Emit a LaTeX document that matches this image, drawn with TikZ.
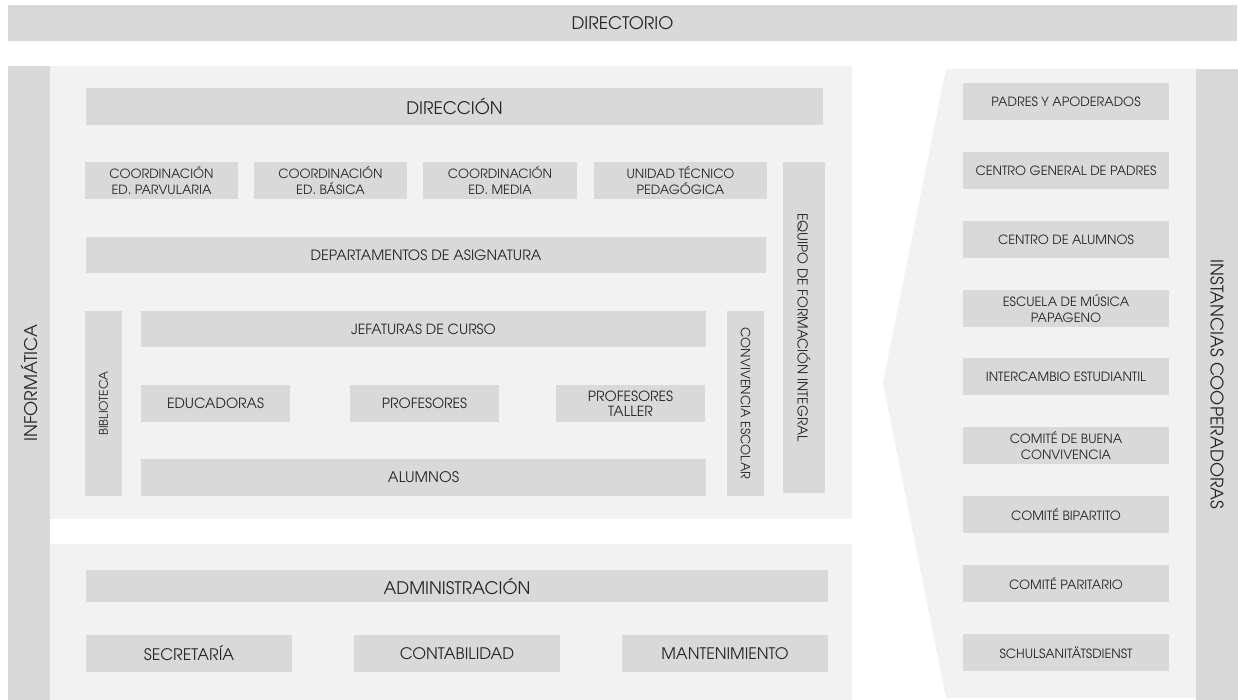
\documentclass[tikz,border=0pt]{standalone}
\usepackage{fontspec}
\setmainfont{texgyreadventor-regular.otf}
\definecolor{boxc}{HTML}{D9D9D9}
\definecolor{panelc}{HTML}{F2F2F2}
\definecolor{txt}{HTML}{262626}
\tikzset{
  bx/.style={fill=boxc, inner sep=0pt, text=txt, align=center, anchor=center},
  big/.style={font=\fontsize{17.3}{19}\selectfont},
  side/.style={font=\fontsize{17.4}{19}\selectfont},
  low/.style={font=\fontsize{15.9}{18}\selectfont},
  mid/.style={font=\fontsize{14}{15.5}\selectfont},
  sml/.style={font=\fontsize{12.7}{15.3}\selectfont},
}
\begin{document}
\begin{tikzpicture}[x=1pt,y=-1pt]
\useasboundingbox (0,0) rectangle (1238,700);
\fill[white] (0,0) rectangle (1238,700);
% panels
\fill[panelc] (50,66) rectangle (852,519);
\fill[panelc] (50,544) rectangle (852,700);
\fill[panelc] (946,69) -- (1196,69) -- (1196,698) -- (946,698) -- (883,383) -- cycle;
% top bar
\node[bx, big, minimum width=1229, minimum height=36] (dir) at (622.5,23) {DIRECTORIO};
% side bars
\node[bx, side, rotate=90, minimum width=634, minimum height=42] (inf) at (29,383) {INFORMÁTICA};
\node[bx, side, rotate=-90, minimum width=631, minimum height=42] (inst) at (1217,384.5) {INSTANCIAS COOPERADORAS};
% upper block
\node[bx, big, minimum width=737, minimum height=37] (direc) at (454.5,106.5) {DIRECCIÓN};
\node[bx, sml, minimum width=153, minimum height=37] (c1) at (161.5,180.5) {COORDINACIÓN\\ED. PARVULARIA};
\node[bx, sml, minimum width=153, minimum height=37] (c2) at (330.5,180.5) {COORDINACIÓN\\ED. BÁSICA};
\node[bx, sml, minimum width=154, minimum height=37] (c3) at (500,180.5) {COORDINACIÓN\\ED. MEDIA};
\node[bx, sml, minimum width=173, minimum height=37] (c4) at (680.5,180.5) {UNIDAD TÉCNICO\\PEDAGÓGICA};
\node[bx, font=\fontsize{13.7}{16}\selectfont, rotate=-90, minimum width=331, minimum height=42] (efi) at (804,327.5) {EQUIPO DE FORMACIÓN INTEGRAL};
\node[bx, font=\fontsize{14.2}{16}\selectfont, minimum width=680, minimum height=36] (dep) at (426,255) {DEPARTAMENTOS DE ASIGNATURA};
\node[bx, font=\fontsize{12}{14}\selectfont, rotate=90, minimum width=185, minimum height=37] (bib) at (103.5,403.5) {BIBLIOTECA};
\node[bx, mid, minimum width=565, minimum height=36] (jef) at (423.5,329) {JEFATURAS DE CURSO};
\node[bx, mid, minimum width=149, minimum height=37] (edu) at (215.5,403.5) {EDUCADORAS};
\node[bx, mid, minimum width=149, minimum height=37] (prof) at (424.5,403.5) {PROFESORES};
\node[bx, mid, minimum width=149, minimum height=37] (pt) at (630.5,403.5) {PROFESORES\\TALLER};
\node[bx, font=\fontsize{14.6}{16}\selectfont, minimum width=565, minimum height=37] (alu) at (423.5,477.5) {ALUMNOS};
\node[bx, sml, rotate=-90, minimum width=185, minimum height=37] (conv) at (745.5,403.5) {CONVIVENCIA ESCOLAR};
% lower block
\node[bx, big, minimum width=742, minimum height=32] (adm) at (457,586) {ADMINISTRACIÓN};
\node[bx, low, minimum width=206, minimum height=37] (sec) at (189,653.5) {SECRETARÍA};
\node[bx, low, minimum width=206, minimum height=37] (cont) at (457,653.5) {CONTABILIDAD};
\node[bx, low, minimum width=206, minimum height=37] (mant) at (725,653.5) {MANTENIMIENTO};
% right column
\node[bx, sml, minimum width=206, minimum height=37] (r1) at (1066,101.5) {PADRES Y APODERADOS};
\node[bx, sml, minimum width=206, minimum height=37] (r2) at (1066,170.5) {CENTRO GENERAL DE PADRES};
\node[bx, sml, minimum width=206, minimum height=37] (r3) at (1066,239.5) {CENTRO DE ALUMNOS};
\node[bx, sml, minimum width=206, minimum height=37] (r4) at (1066,308.5) {ESCUELA DE MÚSICA\\PAPAGENO};
\node[bx, sml, minimum width=206, minimum height=37] (r5) at (1066,376.5) {INTERCAMBIO ESTUDIANTIL};
\node[bx, sml, minimum width=206, minimum height=37] (r6) at (1066,445.5) {COMITÉ DE BUENA\\CONVIVENCIA};
\node[bx, sml, minimum width=206, minimum height=37] (r7) at (1066,514.5) {COMITÉ BIPARTITO};
\node[bx, sml, minimum width=206, minimum height=37] (r8) at (1066,583.5) {COMITÉ PARITARIO};
\node[bx, sml, minimum width=206, minimum height=37] (r9) at (1066,652.5) {SCHULSANITÄTSDIENST};
\end{tikzpicture}
\end{document}
